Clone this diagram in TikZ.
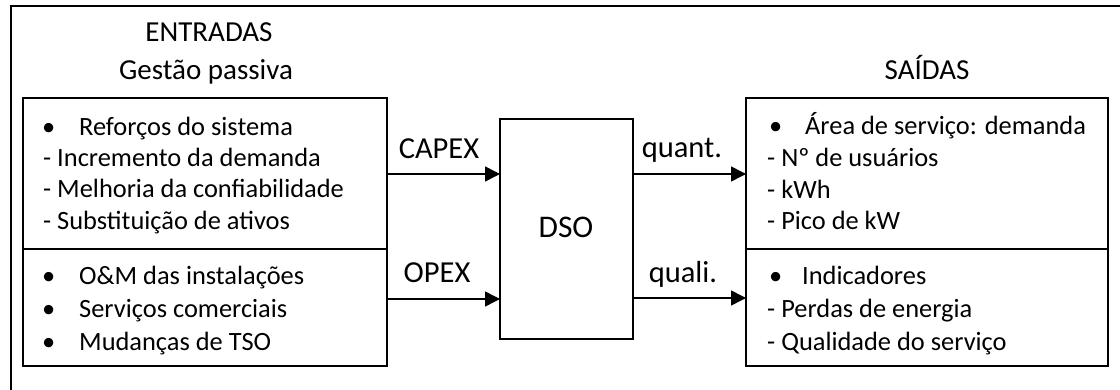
\documentclass[tikz,border=0pt]{standalone}
\usepackage{fontspec}
\setmainfont{Carlito}
\usetikzlibrary{arrows.meta}
\begin{document}
\begin{tikzpicture}[x=1pt,y=-1pt,
  box/.style={draw,line width=2.3pt},
  arr/.style={line width=1.5pt,-{Triangle[length=15pt,width=15pt]}},
  body/.style={anchor=base west,inner sep=0pt,font=\fontsize{26.4}{30}\selectfont},
  title/.style={anchor=base,inner sep=0pt,font=\fontsize{29}{34}\selectfont},
  lab/.style={anchor=base,inner sep=0pt,font=\fontsize{30.5}{35}\selectfont}]
\useasboundingbox (0,0) rectangle (1120,390);
\clip (0,0) rectangle (1120,390);
\draw[line width=2pt] (10.5,400) -- (10.5,6.5) -- (1130,6.5);
% boxes
\draw[box] (23,98) rectangle (387,249);
\draw[box] (23,249) rectangle (387,366);
\draw[box] (500,119) rectangle (633,339);
\draw[box] (746,98) rectangle (1108,249);
\draw[box] (746,249) rectangle (1108,366);
\coordinate (lt) at (387,174);
\coordinate (lb) at (387,299);
\coordinate (dw1) at (500,174);
\coordinate (dw2) at (500,299);
\coordinate (de1) at (633,174);
\coordinate (de2) at (633,298);
\coordinate (rt) at (746,174);
\coordinate (rb) at (746,298);
\node[lab,font=\fontsize{31.5}{36}\selectfont] (dso) at (566,238) {DSO};
% titles
\node[title] (ent) at (209,42) {ENTRADAS};
\node[title] (gp) at (206,80) {Gestão passiva};
\node[title] (sai) at (927,80) {SAÍDAS};
% arrows
\draw[arr] (lt) -- (dw1);
\draw[arr] (lb) -- (dw2);
\draw[arr] (de1) -- (rt);
\draw[arr] (de2) -- (rb);
\node[lab] (capex) at (439,159) {CAPEX};
\node[lab] (opex) at (437,283) {OPEX};
\node[lab] (quant) at (682,158) {quant.};
\node[lab] (quali) at (683,283) {quali.};
% left text
\node[body] (b1) at (42,136) {•};
\node[body] (l1) at (79,136) {Reforços do sistema};
\node[body] (l2) at (43,167) {- Incremento da demanda};
\node[body] (l3) at (43,198) {- Melhoria da confiabilidade};
\node[body] (l4) at (43,230) {- Substituição de ativos};
\node[body] (b5) at (42,285) {•};
\node[body] (l5) at (79,285) {O\&M das instalações};
\node[body] (b6) at (42,317) {•};
\node[body] (l6) at (79,317) {Serviços comerciais};
\node[body] (b7) at (42,350) {•};
\node[body] (l7) at (79,350) {Mudanças de TSO};
% right text
\node[body] (rb1) at (769,135) {•};
\node[body] (r1) at (805,135) {Área de serviço: demanda};
\node[body] (r2) at (767,167) {- Nº de usuários};
\node[body] (r3) at (767,199) {- kWh};
\node[body] (r4) at (767,230) {- Pico de kW};
\node[body] (rb5) at (769,285) {•};
\node[body] (r5) at (802,285) {Indicadores};
\node[body] (r6) at (767,317) {- Perdas de energia};
\node[body] (r7) at (767,350) {- Qualidade do serviço};
\end{tikzpicture}
\end{document}
